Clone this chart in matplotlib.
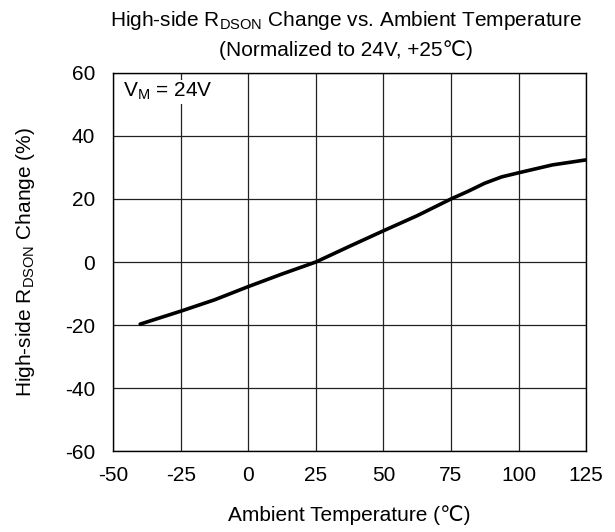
import matplotlib
matplotlib.use("Agg")
import matplotlib.pyplot as plt

plt.rcParams['font.family'] = ['Liberation Sans', 'DejaVu Sans']
plt.rcParams['mathtext.default'] = 'regular'
plt.rcParams['axes.unicode_minus'] = False

temps = [-40, -25, -12.5, 0, 12.5, 25, 37.5, 50, 62.5, 75, 81.25, 87.5, 93.75, 100, 112.5, 125]
change = [-19.7, -15.6, -12.0, -7.8, -3.8, 0, 5.0, 9.9, 14.7, 20, 22.4, 25.0, 27.0, 28.3, 30.8, 32.4]
xticks = [-50, -25, 0, 25, 50, 75, 100, 125]
yticks = [-60, -40, -20, 0, 20, 40, 60]

FS = 15
fig = plt.figure(figsize=(6.15, 5.32), dpi=100)
ax = fig.add_axes([0.184, 0.152, 0.769, 0.711])
ax.plot(temps, change, color='black', lw=2.6, solid_capstyle='round',
        solid_joinstyle='round', zorder=3)
ax.set_xlim(-50, 125)
ax.set_ylim(-60, 60)
ax.set_xticks(xticks)
ax.set_yticks(yticks)
ax.grid(True, color='#222222', lw=0.9)
ax.tick_params(axis='x', length=0, labelsize=FS, pad=11)
ax.tick_params(axis='y', length=0, labelsize=FS, pad=13)
for s in ax.spines.values():
    s.set_color('black')
    s.set_linewidth(1.0)
ax.set_xlabel('Ambient Temperature (\u2103)', fontsize=FS, labelpad=14)
ax.set_ylabel('High-side R$_{DSON}$ Change (%)', fontsize=FS, labelpad=20)
fig.text(0.563, 0.962, 'High-side R$_{DSON}$ Change vs. Ambient Temperature', ha='center', va='center', fontsize=FS)
fig.text(0.563, 0.906, '(Normalized to 24V, +25\u2103)', ha='center', va='center', fontsize=FS)
ax.text(-46.5, 54, 'V$_{M}$ = 24V', fontsize=FS, ha='left', va='center',
        bbox=dict(facecolor='white', edgecolor='none', pad=1), zorder=4)
fig.savefig('out.png', dpi=100)
